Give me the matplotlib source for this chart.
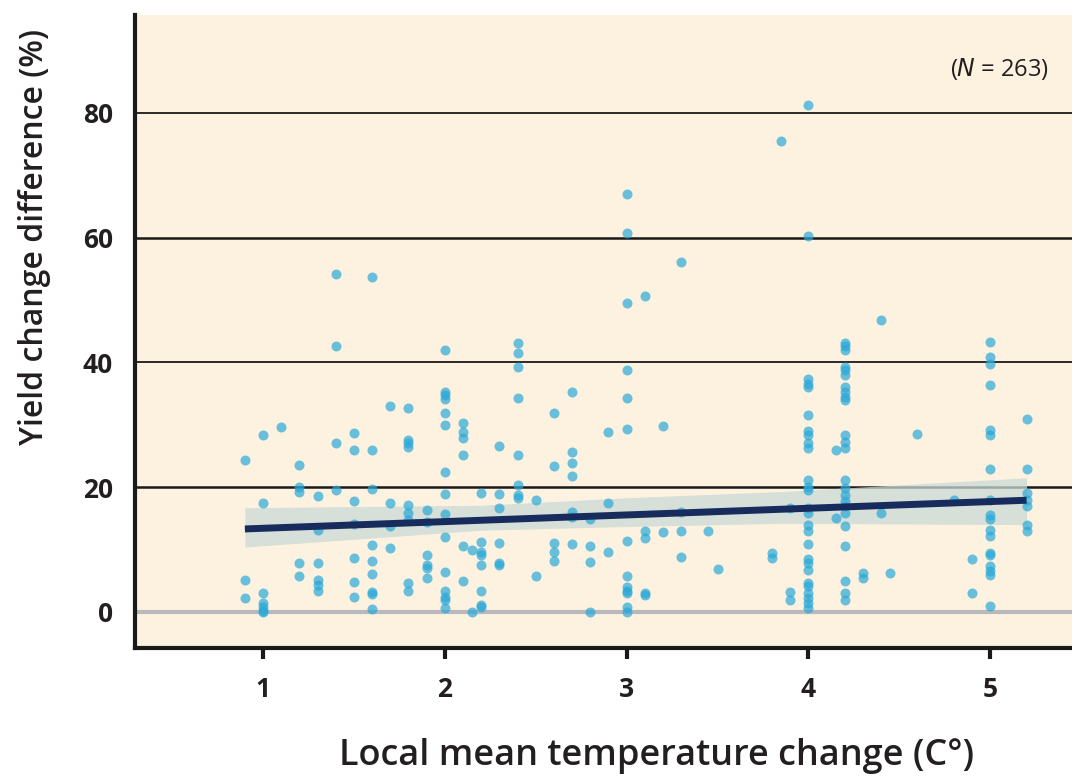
import numpy as np
import matplotlib
matplotlib.use('Agg')
import matplotlib.pyplot as plt

# values, grouped by temperature change (C°)
temps = [0.9, 1.0, 1.1, 1.2, 1.3, 1.4, 1.5, 1.6, 1.7, 1.8, 1.9, 2.0, 2.1, 2.15,
         2.2, 2.3, 2.4, 2.5, 2.6, 2.7, 2.8, 2.9, 3.0, 3.1, 3.2, 3.3, 3.45, 3.5,
         3.8, 3.85, 3.9, 4.0, 4.15, 4.2, 4.3, 4.4, 4.45, 4.6, 4.8, 4.9, 5.0, 5.2]
yields = [
    [24.3, 5.1, 2.2],
    [28.4, 17.5, 3.0, 1.5, 0.8, 0.2, 0.0],
    [29.6],
    [23.6, 20.0, 19.3, 7.8, 5.8],
    [18.6, 13.1, 7.8, 5.1, 4.3, 3.3],
    [54.2, 42.6, 27.1, 19.5],
    [28.7, 26.0, 17.8, 14.1, 8.7, 4.8, 2.4],
    [53.7, 26.0, 19.7, 10.7, 8.2, 6.1, 3.2, 2.8, 0.5],
    [33.0, 17.5, 13.8, 10.2],
    [32.7, 27.6, 27.0, 26.4, 17.1, 15.8, 14.7, 4.6, 3.3],
    [16.3, 14.4, 9.1, 7.5, 7.0, 5.4],
    [42.0, 35.3, 34.8, 34.1, 31.9, 30.0, 22.4, 18.9, 15.7, 12.0, 6.4, 3.3, 2.4, 1.9, 0.6],
    [30.3, 28.9, 27.9, 25.2, 10.6, 5.0],
    [9.9, 0.0],
    [19.1, 11.2, 9.6, 9.1, 7.5, 3.3, 1.1, 0.8],
    [26.6, 18.9, 16.7, 11.1, 7.8, 7.5],
    [43.1, 41.5, 39.3, 34.3, 25.2, 20.4, 18.8, 18.3],
    [18.0, 5.8],
    [31.9, 23.4, 11.1, 9.6, 8.2],
    [35.3, 25.6, 23.9, 21.8, 16.0, 15.2, 10.9],
    [14.9, 10.6, 8.0, 0.0],
    [28.9, 17.5, 9.6],
    [67.0, 60.7, 49.5, 38.8, 34.3, 29.3, 11.4, 5.8, 4.0, 3.4, 3.0, 0.8, 0.0],
    [50.6, 13.0, 11.9, 3.0, 2.7],
    [29.8, 12.8],
    [56.1, 16.0, 13.0, 8.8],
    [13.0],
    [6.9],
    [9.4, 8.7],
    [75.5],
    [16.7, 3.2, 1.9],
    [81.2, 60.3, 37.3, 36.5, 36.1, 31.5, 29.0, 28.3, 27.1, 26.3, 21.2, 20.1, 19.5,
     16.6, 15.8, 14.0, 12.9, 10.9, 8.5, 7.9, 6.7, 4.7, 4.1, 3.1, 2.2, 1.5, 0.7],
    [26.0, 15.1],
    [43.1, 42.6, 42.0, 39.3, 38.7, 37.9, 36.1, 35.3, 34.5, 34.0, 28.4, 27.3, 26.2,
     21.2, 19.9, 18.8, 17.7, 16.9, 15.8, 13.7, 10.5, 5.0, 3.0, 1.9],
    [6.3, 5.4],
    [46.8, 15.9],
    [6.3],
    [28.5],
    [17.9],
    [8.5, 3.0],
    [43.3, 40.9, 39.8, 36.3, 29.2, 28.4, 22.9, 17.9, 15.5, 14.9, 13.1, 12.1, 9.4,
     9.1, 7.3, 6.6, 5.9, 0.9],
    [31.0, 22.9, 19.0, 18.0, 16.9, 13.9, 12.9],
]
n_label = 263

# regression line and its confidence band
fit_x = [0.9, 5.2]
fit_y = [13.3, 17.9]
band_x = [0.9, 2.2, 3.0, 3.85, 5.2]
band_lo = [10.4, 13.1, 13.7, 14.2, 14.0]
band_hi = [16.7, 17.1, 18.3, 19.3, 21.5]

x_ticks = [1, 2, 3, 4, 5]
y_ticks = [0, 20, 40, 60, 80]

x = np.concatenate([[t] * len(v) for t, v in zip(temps, yields)])
y = np.concatenate(yields)

bg = '#fdf2df'
ink = '#231f20'
fig = plt.figure(figsize=(10.72, 7.79), dpi=100)
ax = fig.add_axes([0.126, 0.168, 0.874, 0.813])
ax.set_facecolor(bg)

for v in y_ticks[1:]:
    ax.axhline(v, color='#1a1a1a', lw=1.8 if v in (20, 60) else 1.3, zorder=1)
ax.axhline(0, color='#b9b9bd', lw=3, zorder=1)

ax.scatter(x, y, s=52, color='#2aa8d8', alpha=0.7, linewidths=0, zorder=3)
ax.fill_between(band_x, band_lo, band_hi, color='#c9d9d6', alpha=0.75, lw=0, zorder=2)
ax.plot(fit_x, fit_y, color='#172c5c', lw=5, zorder=4, solid_capstyle='butt')

ax.set_xlim(0.296, 5.45)
ax.set_ylim(-5.8, 95.7)
ax.set_xticks(x_ticks)
ax.set_yticks(y_ticks)

for side in ['top', 'right']:
    ax.spines[side].set_visible(False)
for side in ['left', 'bottom']:
    ax.spines[side].set_linewidth(3)
    ax.spines[side].set_color('#1a1a1a')

ax.tick_params(axis='x', length=8, width=3, color='#1a1a1a', pad=12)
ax.tick_params(axis='y', length=0, pad=16)
for lab in ax.get_xticklabels() + ax.get_yticklabels():
    lab.set_fontfamily('Open Sans')
    lab.set_fontweight('bold')
    lab.set_fontsize(19)
    lab.set_color(ink)

ax.set_xlabel('Local mean temperature change (C°)', fontfamily='Open Sans',
              fontsize=26, fontweight='semibold', color=ink)
ax.xaxis.set_label_coords(0.557, -0.142)
ax.set_ylabel('Yield change difference (%)', fontfamily='Open Sans',
              fontsize=23, fontweight='semibold', color=ink)
ax.yaxis.set_label_coords(-0.09, 0.649)

ax.text(0.975, 0.915, r'($\it{N}$ = %d)' % n_label, transform=ax.transAxes,
        ha='right', va='center', fontsize=17, fontfamily='Open Sans', color=ink)

fig.savefig('out.png', dpi=100)
